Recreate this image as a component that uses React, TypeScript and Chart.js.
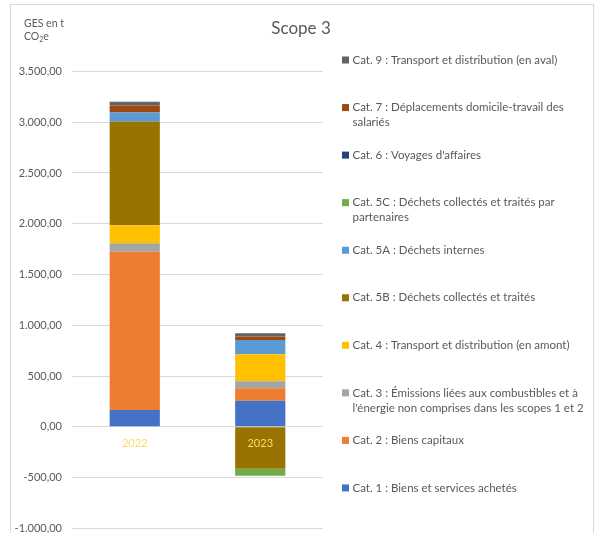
import React, { useEffect, useRef } from "react";
import { Chart, registerables } from "chart.js";

Chart.register(...registerables);

// ---- data ----
const years = ["2022", "2023"];
const cat1 = [167, 258];
const cat2 = [1558, 122];
const cat3 = [84, 69];
const cat4 = [177, 265];
const cat5B = [1021, -412];
const cat5A = [88, 140];
const cat5C = [0, -69];
const cat6 = [0, 0];
const cat7 = [69, 36];
const cat9 = [36, 32];

const seriesNames = [
  "Cat. 1 : Biens et services achetés",
  "Cat. 2 : Biens capitaux",
  "Cat. 3 : Émissions liées aux combustibles et à l'énergie non comprises dans les scopes 1 et 2",
  "Cat. 4 : Transport et distribution (en amont)",
  "Cat. 5B : Déchets collectés et traités",
  "Cat. 5A : Déchets internes",
  "Cat. 5C : Déchets collectés et traités par partenaires",
  "Cat. 6 : Voyages d'affaires",
  "Cat. 7 : Déplacements domicile-travail des salariés",
  "Cat. 9 : Transport et distribution (en aval)",
];
const seriesValues = [cat1, cat2, cat3, cat4, cat5B, cat5A, cat5C, cat6, cat7, cat9];
const seriesColors = [
  "#4472C4",
  "#ED7D31",
  "#A5A5A5",
  "#FFC000",
  "#997300",
  "#5B9BD5",
  "#70AD47",
  "#264478",
  "#9E480E",
  "#636363",
];

const yMin = -1000;
const yMax = 3500;
const yStep = 500;
const chartTitle = "Scope 3";

const FONT = "Lato, 'Open Sans', sans-serif";
const TEXT = "#595959";

function fmt(v: number): string {
  const neg = v < 0;
  const a = Math.round(Math.abs(v));
  const s = a.toString().replace(/\B(?=(\d{3})+(?!\d))/g, ".");
  return (neg ? "-" : "") + s + ",00";
}

function wrap(ctx: CanvasRenderingContext2D, text: string, maxW: number): string[] {
  const words = text.split(" ");
  const lines: string[] = [];
  let cur = "";
  for (const w of words) {
    const t = cur ? cur + " " + w : w;
    if (cur && ctx.measureText(t).width > maxW) {
      lines.push(cur);
      cur = w;
    } else {
      cur = t;
    }
  }
  if (cur) lines.push(cur);
  return lines;
}

const decor = {
  id: "decor",
  beforeDraw(chart: any) {
    const ctx = chart.ctx as CanvasRenderingContext2D;
    ctx.save();
    ctx.fillStyle = "#FFFFFF";
    ctx.fillRect(0, 0, chart.width, chart.height);
    ctx.strokeStyle = "#D9D9D9";
    ctx.lineWidth = 1;
    ctx.strokeRect(10.5, 4.5, 583, 600);
    ctx.restore();
  },
  afterDraw(chart: any) {
    const ctx = chart.ctx as CanvasRenderingContext2D;
    ctx.save();
    ctx.fillStyle = TEXT;
    // title
    ctx.font = `17px ${FONT}`;
    ctx.textAlign = "center";
    ctx.textBaseline = "alphabetic";
    ctx.fillText(chartTitle, 301, 34);
    // axis title
    ctx.textAlign = "left";
    ctx.font = `10.5px ${FONT}`;
    ctx.fillText("GES en t", 24, 27);
    let x = 24;
    ctx.fillText("CO", x, 40);
    x += ctx.measureText("CO").width;
    ctx.font = `7px ${FONT}`;
    ctx.fillText("2", x, 42);
    x += ctx.measureText("2").width;
    ctx.font = `10.5px ${FONT}`;
    ctx.fillText("e", x, 40);

    // legend
    ctx.font = `11.5px ${FONT}`;
    ctx.textBaseline = "middle";
    const n = chart.data.datasets.length;
    for (let k = 0; k < n; k++) {
      const i = n - 1 - k;
      const ds = chart.data.datasets[i];
      const yc = 60 + k * 47.55;
      ctx.fillStyle = ds.backgroundColor;
      ctx.fillRect(342, yc - 3.5, 7, 7);
      ctx.fillStyle = TEXT;
      const lines = wrap(ctx, ds.label, 236);
      lines.forEach((ln, j) => ctx.fillText(ln, 352.5, yc + j * 15));
    }
    ctx.restore();
  },
};

export default function App() {
  const ref = useRef<HTMLCanvasElement | null>(null);
  useEffect(() => {
    if (!ref.current) return;
    const chart = new Chart(ref.current, {
      type: "bar",
      data: {
        labels: years,
        datasets: seriesValues.map((vals, i) => ({
          label: seriesNames[i],
          data: vals,
          backgroundColor: seriesColors[i],
          borderWidth: 0,
          barPercentage: 0.4,
          categoryPercentage: 1,
        })),
      },
      options: {
        responsive: false,
        animation: false,
        layout: { padding: { top: 71.4, left: 0, right: 277, bottom: 15.5 } },
        plugins: {
          legend: { display: false },
          title: { display: false },
          tooltip: { enabled: false },
        },
        scales: {
          x: {
            stacked: true,
            position: { y: 0 } as any,
            grid: { display: false, drawTicks: false },
            border: { display: false },
            ticks: { color: "#FFD966", font: { family: FONT, size: 11 }, padding: 10, z: 1 } as any,
          },
          y: {
            stacked: true,
            min: yMin,
            max: yMax,
            afterFit: (scale: any) => {
              scale.width = 72;
            },
            grid: { color: "#D9D9D9", lineWidth: 1, drawTicks: false },
            border: { display: false },
            ticks: {
              stepSize: yStep,
              color: TEXT,
              padding: 10,
              font: { family: FONT, size: 11 },
              callback: (v: any) => fmt(Number(v)),
            },
          },
        },
      },
      plugins: [decor],
    });
    return () => chart.destroy();
  }, []);
  return (
    <div style={{ position: "absolute", left: 0, top: 0, width: 600, height: 533, overflow: "hidden" }}>
      <canvas ref={ref} width={600} height={545} style={{ display: "block" }} />
    </div>
  );
}
